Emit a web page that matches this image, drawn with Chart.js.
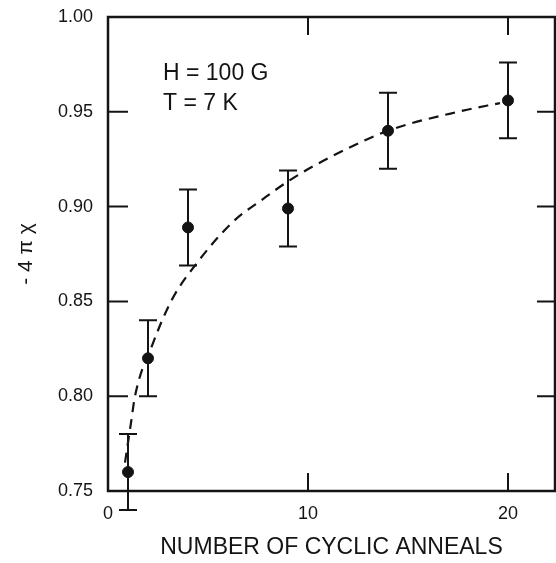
<!DOCTYPE html>
<html>
<head>
<meta charset="utf-8">
<script src="https://cdn.jsdelivr.net/npm/chart.js@4.4.1/dist/chart.umd.min.js"></script>
<style>
  html, body { margin: 0; padding: 0; background: #fff; }
</style>
</head>
<body>
<canvas id="myChart" width="556" height="563"></canvas>
<script>
  // measured points with error bars
  var anneals = [1, 2, 4, 9, 14, 20];
  var chi = [0.76, 0.82, 0.889, 0.899, 0.94, 0.956];
  var chiErr = [0.02, 0.02, 0.02, 0.02, 0.02, 0.02];

  // dashed guide curve
  var fitX = [0.85, 1.15, 1.35, 2.25, 3.2, 4.5, 6.25, 7.75, 9.1, 11.1, 14, 17.75, 19.6];
  var fitY = [0.765, 0.786, 0.8, 0.828, 0.851, 0.871, 0.892, 0.904, 0.914, 0.926, 0.94, 0.9506, 0.9546];

  var xTicks = [0, 10, 20];
  var yTicks = [0.75, 0.8, 0.85, 0.9, 0.95, 1.0];

  var ink = "#141414";
  var fam = "'Liberation Sans', Arial, sans-serif";

  /* frame, inward tick marks and error bars */
  var boxTicks = {
    id: "boxTicks",
    beforeDatasetsDraw: function (chart) {
      var ctx = chart.ctx, x = chart.scales.x, y = chart.scales.y;
      ctx.save();
      ctx.strokeStyle = ink;
      ctx.lineWidth = 2;
      anneals.forEach(function (v, i) {
        var px = x.getPixelForValue(v);
        var top = y.getPixelForValue(chi[i] + chiErr[i]);
        var bot = y.getPixelForValue(chi[i] - chiErr[i]);
        ctx.beginPath();
        ctx.moveTo(px, top); ctx.lineTo(px, bot);
        ctx.moveTo(px - 9, top); ctx.lineTo(px + 9, top);
        ctx.moveTo(px - 9, bot); ctx.lineTo(px + 9, bot);
        ctx.stroke();
      });
      ctx.restore();
    },
    afterDatasetsDraw: function (chart) {
      var ctx = chart.ctx, a = chart.chartArea, x = chart.scales.x, y = chart.scales.y;
      ctx.save();
      ctx.strokeStyle = ink;
      ctx.lineWidth = 2.5;
      ctx.strokeRect(a.left, a.top, a.right - a.left, a.bottom - a.top);
      ctx.lineWidth = 2;
      ctx.beginPath();
      y.ticks.forEach(function (t) {
        if (t.value <= 0.75 || t.value >= 1.0) return;
        var py = y.getPixelForValue(t.value);
        ctx.moveTo(a.left, py); ctx.lineTo(a.left + 20, py);
        ctx.moveTo(a.right, py); ctx.lineTo(a.right - 18, py);
      });
      x.ticks.forEach(function (t) {
        if (t.value <= 0) return;
        var px = x.getPixelForValue(t.value);
        ctx.moveTo(px, a.bottom); ctx.lineTo(px, a.bottom - 18);
        ctx.moveTo(px, a.top); ctx.lineTo(px, a.top + 18);
      });
      ctx.stroke();

      // field / temperature note
      ctx.fillStyle = ink;
      ctx.font = "23px " + fam;
      ctx.textBaseline = "alphabetic";
      ctx.fillText("H = 100 G", 163, 80);
      ctx.fillText("T = 7 K", 163, 110);
      ctx.restore();
    }
  };

  var ctx = document.getElementById("myChart").getContext("2d");
  var chart1 = new Chart(ctx, {
    type: "scatter",
    data: {
      datasets: [
        {
          label: "data",
          data: anneals.map(function (v, i) { return { x: v, y: chi[i] }; }),
          backgroundColor: ink,
          borderColor: ink,
          pointRadius: 5.5,
          pointHoverRadius: 5.5,
          showLine: false,
          clip: false
        },
        {
          label: "fit",
          data: fitX.map(function (v, i) { return { x: v, y: fitY[i] }; }),
          showLine: true,
          borderColor: ink,
          borderWidth: 2.2,
          borderDash: [10, 7],
          pointRadius: 0,
          cubicInterpolationMode: "monotone",
          clip: false
        }
      ]
    },
    options: {
      responsive: false,
      animation: false,
      devicePixelRatio: 1,
      layout: { autoPadding: false, padding: { top: 17, right: 1, left: 0, bottom: 0 } },
      plugins: { legend: { display: false }, tooltip: { enabled: false } },
      scales: {
        x: {
          type: "linear",
          min: 0,
          max: 22.35,
          afterBuildTicks: function (s) { s.ticks = xTicks.map(function (v) { return { value: v }; }); },
          afterFit: function (s) { s.height = 72; s.paddingLeft = 0; s.paddingRight = 0; },
          grid: { display: false, drawTicks: false },
          border: { display: false },
          ticks: { color: ink, font: { family: fam, size: 18 }, padding: 12, maxRotation: 0 },
          title: {
            display: true,
            text: "NUMBER OF CYCLIC ANNEALS",
            color: ink,
            font: { family: fam, size: 23 },
            padding: { top: 0, bottom: 2 }
          }
        },
        y: {
          min: 0.75,
          max: 1.0,
          afterBuildTicks: function (s) { s.ticks = yTicks.map(function (v) { return { value: v }; }); },
          afterFit: function (s) { s.width = 108; s.paddingTop = 0; s.paddingBottom = 0; },
          grid: { display: false, drawTicks: false },
          border: { display: false },
          ticks: {
            color: ink,
            font: { family: fam, size: 18 },
            padding: 15,
            callback: function (v) { return Number(v).toFixed(2); }
          },
          title: {
            display: true,
            text: "- 4 \u03c0 \u03c7",
            color: ink,
            font: { family: fam, size: 21 },
            padding: { top: 14, bottom: 0 }
          }
        }
      }
    },
    plugins: [boxTicks]
  });
</script>
</body>
</html>
